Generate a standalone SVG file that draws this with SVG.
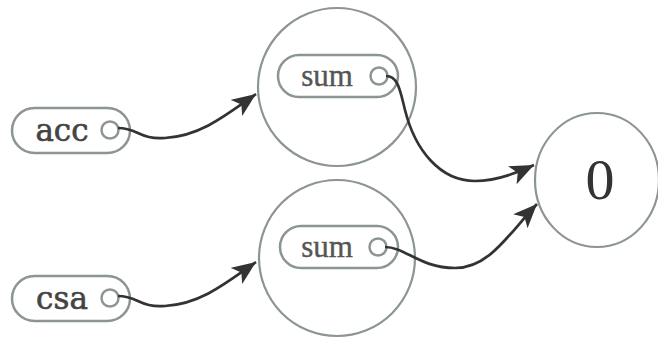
<svg xmlns="http://www.w3.org/2000/svg" width="658" height="343" viewBox="0 0 658 343">
<style>
.ring{fill:none;stroke:#8c9494;stroke-width:2.2}
.pill{fill:#fff;stroke:#8c9494;stroke-width:2.5}
.port{fill:#fff;stroke:#8c9494;stroke-width:2.5}
.lbl{font-family:"DejaVu Serif",serif;font-size:31px;fill:#444;text-anchor:middle;stroke:#444;stroke-width:0.6}
.lbl2{font-family:"Liberation Serif",serif;font-size:31px;fill:#555;text-anchor:middle;stroke:#555;stroke-width:0.4}
.zero{font-family:"Liberation Serif",serif;font-size:58px;fill:#333;text-anchor:middle}
.edge{fill:none;stroke:#333;stroke-width:2.7}
</style>
<defs>
<marker id="arr" markerUnits="userSpaceOnUse" markerWidth="28" markerHeight="22" refX="24" refY="10" orient="auto">
<path d="M0,0 L24,10 L0,20 L6,10 z" fill="#333"/>
</marker>
</defs>
<rect width="658" height="343" fill="#fff"/>
<g id="node-sum1">
<circle class="ring" cx="337" cy="87" r="79"/>
<rect class="pill" x="278" y="55" width="120" height="42" rx="21"/>
<text class="lbl2" x="327" y="86">sum</text>
<circle class="port" cx="379" cy="76" r="8.5"/>
</g>
<g id="node-sum2">
<circle class="ring" cx="337" cy="258" r="78"/>
<rect class="pill" x="280" y="226" width="118" height="42" rx="21"/>
<text class="lbl2" x="327" y="257">sum</text>
<circle class="port" cx="378" cy="247" r="8.5"/>
</g>
<g id="node-zero">
<ellipse class="ring" cx="597" cy="180" rx="62" ry="67"/>
<text class="zero" x="600" y="199">0</text>
</g>
<g id="node-acc">
<rect class="pill" x="12" y="108" width="118" height="45" rx="22.5"/>
<text class="lbl" x="62" y="141">acc</text>
<circle class="port" cx="110" cy="130" r="8.5"/>
</g>
<g id="node-csa">
<rect class="pill" x="12" y="276" width="118" height="45" rx="22.5"/>
<text class="lbl" x="62" y="309">csa</text>
<circle class="port" cx="110" cy="298" r="8.5"/>
</g>
<g id="connectors">
<path class="edge" marker-end="url(#arr)" d="M118,128 C138,128 140,140 165,138 C200,136 225,116 256,94"/>
<path class="edge" marker-end="url(#arr)" d="M118,296 C138,296 140,308 165,306 C200,304 225,284 256,262"/>
<path class="edge" marker-end="url(#arr)" d="M386,76 C398,76 400,90 405,110 C415,150 440,181 475,181 C495,181 515,174 534,165"/>
<path class="edge" marker-end="url(#arr)" d="M385,247 C405,247 420,268 455,268 C490,268 510,232 537,204"/>
</g>
</svg>
